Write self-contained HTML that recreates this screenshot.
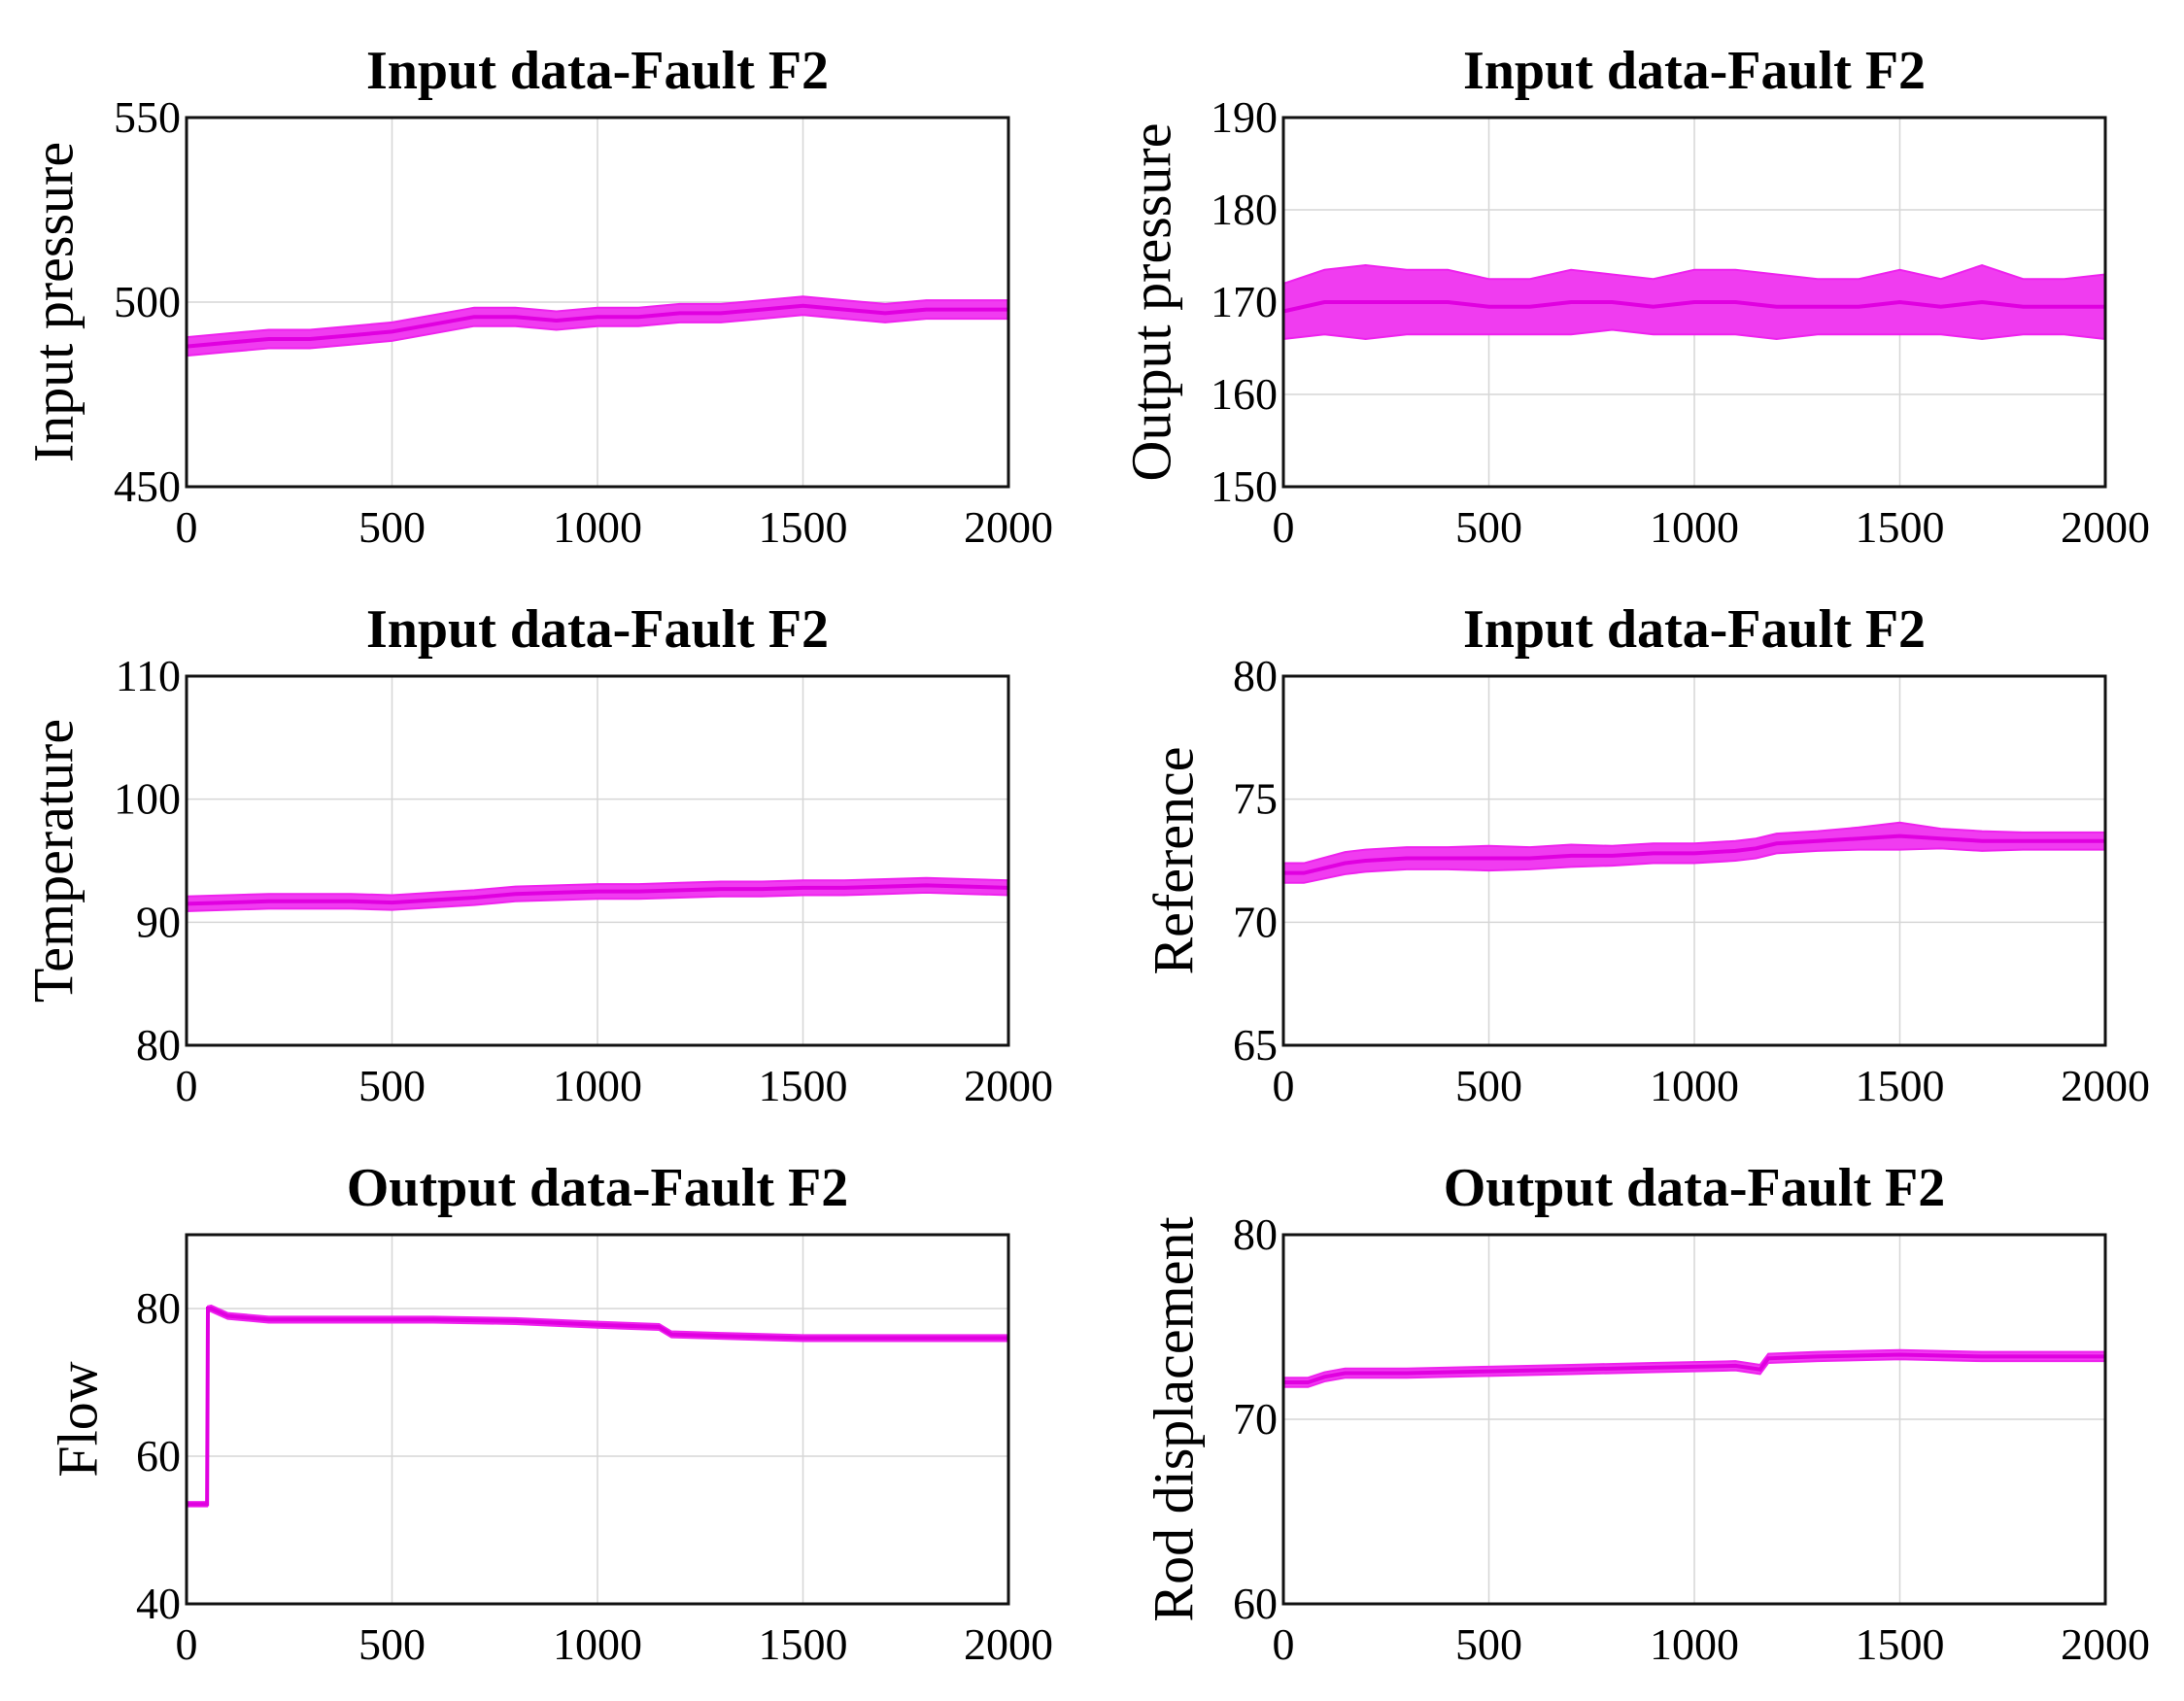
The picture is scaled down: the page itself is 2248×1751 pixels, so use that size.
<!DOCTYPE html>
<html><head><meta charset="utf-8"><style>
html,body{margin:0;padding:0;background:#fff;}
svg{display:block;}
text{font-family:"Liberation Serif",serif;fill:#000;}
</style></head><body>
<svg id="fig" width="2248" height="1751" viewBox="0 0 2248 1751" xmlns="http://www.w3.org/2000/svg"></svg>
<script>
const xTicks=[0,500,1000,1500,2000];
// Chart 1: Input pressure
const c1X=[0,100,200,300,400,500,600,700,800,900,1000,1100,1200,1300,1400,1500,1600,1700,1800,1900,2000];
const c1Y=[488,489,490,490,491,492,494,496,496,495,496,496,497,497,498,499,498,497,498,498,498];
const c1Band=[2.5,2.5,2.5,2.5,2.5,2.5,2.5,2.5,2.5,2.5,2.5,2.5,2.5,2.5,2.5,2.5,2.5,2.5,2.5,2.5,2.5];
const c1Ticks=[450,500,550];
const c1Range=[450,550];
// Chart 2: Output pressure
const c2X=[0,100,200,300,400,500,600,700,800,900,1000,1100,1200,1300,1400,1500,1600,1700,1800,1900,2000];
const c2Y=[169,170,170,170,170,169.5,169.5,170,170,169.5,170,170,169.5,169.5,169.5,170,169.5,170,169.5,169.5,169.5];
const c2Band=[3,3.5,4,3.5,3.5,3,3,3.5,3,3,3.5,3.5,3.5,3,3,3.5,3,4,3,3,3.5];
const c2Ticks=[150,160,170,180,190];
const c2Range=[150,190];
// Chart 3: Temperature
const c3X=[0,100,200,300,400,500,600,700,800,900,1000,1100,1200,1300,1400,1500,1600,1700,1800,1900,2000];
const c3Y=[91.5,91.6,91.7,91.7,91.7,91.6,91.8,92,92.3,92.4,92.5,92.5,92.6,92.7,92.7,92.8,92.8,92.9,93,92.9,92.8];
const c3Band=[0.6,0.6,0.6,0.6,0.6,0.6,0.6,0.6,0.6,0.6,0.6,0.6,0.6,0.6,0.6,0.6,0.6,0.6,0.6,0.6,0.6];
const c3Ticks=[80,90,100,110];
const c3Range=[80,110];
// Chart 4: Reference
const c4X=[0,50,150,200,300,400,500,600,700,800,900,1000,1100,1150,1200,1300,1400,1500,1600,1700,1800,1900,2000];
const c4Y=[72.0,72.0,72.4,72.5,72.6,72.6,72.6,72.6,72.7,72.7,72.8,72.8,72.9,73.0,73.2,73.3,73.4,73.5,73.4,73.3,73.3,73.3,73.3];
const c4Band=[0.4,0.4,0.45,0.45,0.45,0.45,0.5,0.45,0.45,0.4,0.4,0.4,0.4,0.4,0.4,0.4,0.45,0.55,0.4,0.4,0.35,0.35,0.35];
const c4Ticks=[65,70,75,80];
const c4Range=[65,80];
// Chart 5: Flow
const c5X=[0,50,52,60,100,200,400,600,800,1000,1150,1180,1300,1500,1700,1900,2000];
const c5Y=[53.5,53.5,80,80,79,78.5,78.5,78.5,78.3,77.8,77.5,76.5,76.3,76,76,76,76];
const c5Band=[0.3,0.3,0.3,0.4,0.4,0.4,0.4,0.4,0.4,0.4,0.4,0.4,0.4,0.4,0.4,0.4,0.4];
const c5Ticks=[40,60,80];
const c5Range=[40,90];
// Chart 6: Rod displacement
const c6X=[0,60,100,150,300,500,700,900,1100,1160,1180,1300,1500,1700,1900,2000];
const c6Y=[72.0,72.0,72.3,72.5,72.5,72.6,72.7,72.8,72.9,72.7,73.3,73.4,73.5,73.4,73.4,73.4];
const c6Band=[0.25,0.25,0.25,0.25,0.25,0.25,0.25,0.25,0.25,0.25,0.25,0.25,0.25,0.25,0.25,0.25];
const c6Ticks=[60,70,80];
const c6Range=[60,80];

const NS="http://www.w3.org/2000/svg";
const svg=document.getElementById('fig');
function el(tag,attrs,parent){const e=document.createElementNS(NS,tag);for(const k in attrs)e.setAttribute(k,attrs[k]);(parent||svg).appendChild(e);return e;}

const charts=[
 {id:'input-pressure',title:'Input data-Fault F2',ylabel:'Input pressure',x0:192,y0:121,X:c1X,Y:c1Y,B:c1Band,T:c1Ticks,R:c1Range,off:137},
 {id:'output-pressure',title:'Input data-Fault F2',ylabel:'Output pressure',x0:1321,y0:121,X:c2X,Y:c2Y,B:c2Band,T:c2Ticks,R:c2Range,off:136},
 {id:'temperature',title:'Input data-Fault F2',ylabel:'Temperature',x0:192,y0:696,X:c3X,Y:c3Y,B:c3Band,T:c3Ticks,R:c3Range,off:137},
 {id:'reference',title:'Input data-Fault F2',ylabel:'Reference',x0:1321,y0:696,X:c4X,Y:c4Y,B:c4Band,T:c4Ticks,R:c4Range,off:113},
 {id:'flow',title:'Output data-Fault F2',ylabel:'Flow',x0:192,y0:1271,X:c5X,Y:c5Y,B:c5Band,T:c5Ticks,R:c5Range,off:112},
 {id:'rod-displacement',title:'Output data-Fault F2',ylabel:'Rod displacement',x0:1321,y0:1271,X:c6X,Y:c6Y,B:c6Band,T:c6Ticks,R:c6Range,off:113}
];
const W=846,H=380;
charts.forEach(c=>{
 const g=el('g',{});
 
 
 const ymin=c.R[0],ymax=c.R[1];
 const sx=v=>c.x0+v/2000*W;
 const sy=v=>c.y0+H-(v-ymin)/(ymax-ymin)*H;
 xTicks.forEach(t=>{const l=el('line',{x1:sx(t),x2:sx(t),y1:c.y0,y2:c.y0+H,stroke:'#d6d6d6','stroke-width':1.5},g);
  });
 c.T.forEach(t=>{const l=el('line',{x1:c.x0,x2:c.x0+W,y1:sy(t),y2:sy(t),stroke:'#d6d6d6','stroke-width':1.5},g);
  });
 let up=c.X.map((x,i)=>sx(x)+','+sy(c.Y[i]+c.B[i])).join(' ');
 let dn=c.X.map((x,i)=>sx(x)+','+sy(c.Y[i]-c.B[i])).reverse().join(' ');
 const band=el('polygon',{points:up+' '+dn,fill:'#f03cf0',stroke:'#ee22ee','stroke-width':2},g);
 
 const line=el('polyline',{points:c.X.map((x,i)=>sx(x)+','+sy(c.Y[i])).join(' '),fill:'none',stroke:'#e000e0','stroke-width':4},g);
 
 const fr=el('rect',{x:c.x0,y:c.y0,width:W,height:H,fill:'none',stroke:'#111','stroke-width':3},g);
 
 xTicks.forEach(t=>{const tx=el('text',{x:sx(t),y:c.y0+H+57,'font-size':46,'text-anchor':'middle'},g);tx.textContent=t;
  });
 c.T.forEach(t=>{const tx=el('text',{x:c.x0-6,y:sy(t)+15,'font-size':46,'text-anchor':'end'},g);tx.textContent=t;
  });
 const ti=el('text',{x:c.x0+W/2,y:c.y0-30,'font-size':56,'font-weight':'bold','text-anchor':'middle'},g);ti.textContent=c.title;
 
 const lx=c.x0-c.off,ly=c.y0+H/2;
 const yl=el('text',{x:lx,y:ly,'font-size':58,'text-anchor':'middle',transform:'rotate(-90 '+lx+' '+ly+')','dominant-baseline':'central'},g);yl.textContent=c.ylabel;
 
});
</script>
</body></html>
